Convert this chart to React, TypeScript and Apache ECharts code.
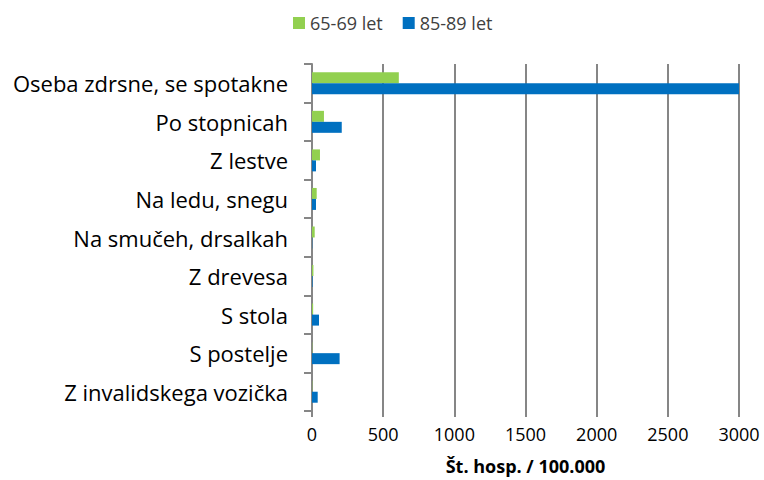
import React, { useEffect, useRef } from "react";
import * as echarts from "echarts";

const categories = [
  "Oseba zdrsne, se spotakne",
  "Po stopnicah",
  "Z lestve",
  "Na ledu, snegu",
  "Na smučeh, drsalkah",
  "Z drevesa",
  "S stola",
  "S postelje",
  "Z invalidskega vozička",
];
const series6569 = [610, 84, 56, 33, 19, 10, 8, 2, 2];
const series8589 = [3000, 209, 28, 28, 2, 4, 49, 194, 40];
const seriesNames = ["65-69 let", "85-89 let"];
const xTicks = [0, 500, 1000, 1500, 2000, 2500, 3000];
const xAxisName = "Št. hosp. / 100.000";

const FONT = "'Open Sans', 'Noto Sans', sans-serif";

export default function App() {
  const ref = useRef<HTMLDivElement>(null);
  useEffect(() => {
    if (!ref.current) return;
    const chart = echarts.init(ref.current, null, { renderer: "svg" });
    chart.setOption({
      animation: false,
      textStyle: { fontFamily: FONT },
      legend: {
        top: 9,
        left: 288,
        itemWidth: 12,
        itemHeight: 12,
        itemGap: 20,
        icon: "rect",
        textStyle: { fontSize: 18, color: "#404040", fontFamily: FONT },
        data: seriesNames,
      },
      grid: { left: 312, right: 25, top: 64, bottom: 66 },
      xAxis: {
        type: "value",
        min: xTicks[0],
        max: xTicks[xTicks.length - 1],
        interval: 500,
        axisLine: { show: false },
        axisTick: { show: true, length: 6, lineStyle: { color: "#868686", width: 2 } },
        splitLine: { show: true, lineStyle: { color: "#868686", width: 2 } },
        axisLabel: {
          fontSize: 18,
          color: "#000",
          margin: 14,
          fontFamily: FONT,
          formatter: (v: number) => String(v),
        },
        name: xAxisName,
        nameLocation: "middle",
        nameGap: 46,
        nameTextStyle: { fontSize: 18, fontWeight: "bold", color: "#000", fontFamily: FONT },
      },
      yAxis: {
        type: "category",
        inverse: true,
        data: categories,
        axisLine: { show: true, lineStyle: { color: "#868686", width: 2 } },
        axisTick: { show: true, length: 8, lineStyle: { color: "#868686", width: 2 } },
        axisLabel: { fontSize: 22, color: "#000", margin: 24, fontFamily: FONT },
      },
      series: [
        {
          name: seriesNames[0],
          type: "bar",
          data: series6569,
          itemStyle: { color: "#92D050" },
          barGap: "0%",
          barCategoryGap: "43%",
        },
        {
          name: seriesNames[1],
          type: "bar",
          data: series8589,
          itemStyle: { color: "#0070C0" },
          barGap: "0%",
          barCategoryGap: "43%",
        },
      ],
    });
    return () => chart.dispose();
  }, []);
  return (
    <div
      ref={ref}
      style={{ position: "fixed", left: 0, top: 0, width: 764, height: 480, background: "#fff" }}
    />
  );
}
